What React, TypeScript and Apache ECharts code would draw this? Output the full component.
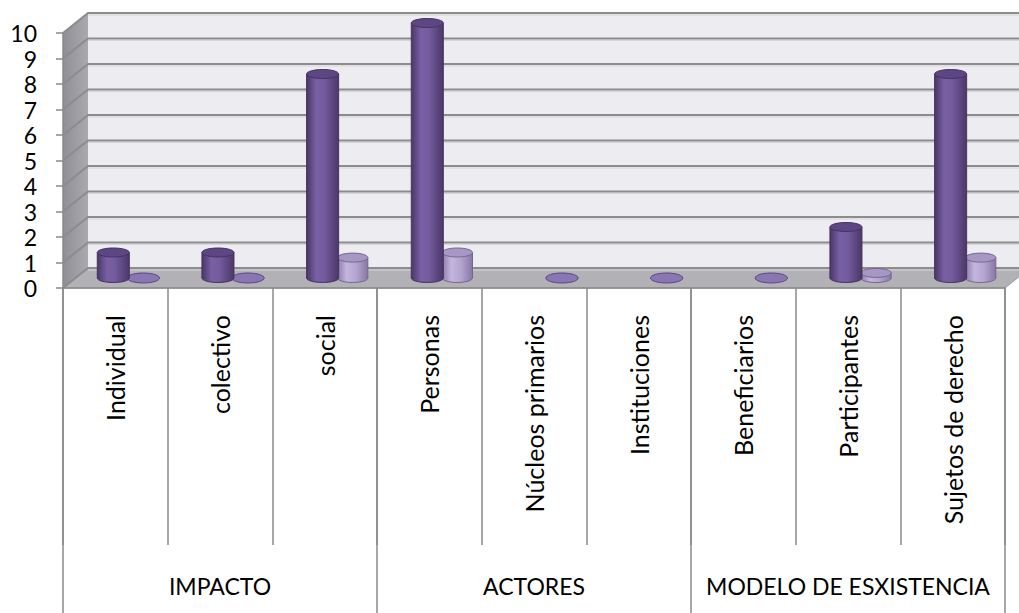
import React, { useEffect, useRef } from "react";
import * as echarts from "echarts";

const categories = [
  "Individual",
  "colectivo",
  "social",
  "Personas",
  "Núcleos primarios",
  "Instituciones",
  "Beneficiarios",
  "Participantes",
  "Sujetos de derecho",
];
const groups = ["IMPACTO", "ACTORES", "MODELO DE ESXISTENCIA"];
const seriesDark: (number | null)[] = [1, 1, 8, 10, null, null, null, 2, 8];
const seriesLight: (number | null)[] = [0, 0, 0.8, 1, 0, 0, 0, 0.2, 0.8];
const yTickValues = [0, 1, 2, 3, 4, 5, 6, 7, 8, 9, 10];

const DX = 25;
const DY = 20;
const FONT = "Lato";

function cylinder(offsetFrac: number, radiusFrac: number, pal: any) {
  return (params: any, api: any) => {
    const v = api.value(1);
    if (v === null || v === undefined || isNaN(v)) return null;
    const idx = api.value(0);
    const top = api.coord([idx, v]);
    const base = api.coord([idx, 0]);
    const bw = api.size([1, 0])[0];
    const cx = top[0] + DX / 2 + offsetFrac * bw;
    const rx = bw * radiusFrac;
    const ry = 4.5;
    const yT = top[1] - DY / 2;
    const yB = base[1] - DY / 2;
    if (v === 0) {
      return {
        type: "ellipse",
        shape: { cx, cy: yB, rx: rx + 1, ry: 5 },
        style: { fill: pal.zero, stroke: pal.zeroStroke, lineWidth: 1 },
      };
    }
    const grad = new echarts.graphic.LinearGradient(0, 0, 1, 0, pal.body);
    return {
      type: "group",
      children: [
        {
          type: "ellipse",
          shape: { cx, cy: yB, rx, ry },
          style: { fill: grad, stroke: pal.stroke, lineWidth: 1 },
        },
        {
          type: "rect",
          shape: { x: cx - rx, y: yT, width: rx * 2, height: yB - yT },
          style: { fill: grad },
        },
        {
          type: "line",
          shape: { x1: cx - rx, y1: yT, x2: cx - rx, y2: yB },
          style: { stroke: pal.stroke, lineWidth: 1 },
        },
        {
          type: "line",
          shape: { x1: cx + rx, y1: yT, x2: cx + rx, y2: yB },
          style: { stroke: pal.stroke, lineWidth: 1 },
        },
        {
          type: "ellipse",
          shape: { cx, cy: yT, rx, ry },
          style: { fill: pal.top, stroke: pal.stroke, lineWidth: 1 },
        },
      ],
    };
  };
}

const darkPal = {
  body: [
    { offset: 0, color: "#4a3768" },
    { offset: 0.3, color: "#7760a3" },
    { offset: 0.55, color: "#745b9e" },
    { offset: 1, color: "#4b3869" },
  ],
  top: "#5c4684",
  stroke: "#46335f",
  zero: "#8a76b3",
  zeroStroke: "#5b4782",
};
const lightPal = {
  body: [
    { offset: 0, color: "#8c7ba9" },
    { offset: 0.3, color: "#c3b6de" },
    { offset: 0.6, color: "#b5a6d1" },
    { offset: 1, color: "#8977a5" },
  ],
  top: "#a797c4",
  stroke: "#76668f",
  zero: "#8a76b3",
  zeroStroke: "#5b4782",
};

function walls(params: any, api: any) {
  const cs = params.coordSys;
  const x0 = cs.x;
  const x1 = cs.x + cs.width;
  const yt = cs.y;
  const yb = cs.y + cs.height;
  const children: any[] = [
    {
      type: "polygon",
      shape: {
        points: [
          [x0, yt],
          [x0 + DX, yt - DY],
          [x0 + DX, yb - DY],
          [x0, yb],
        ],
      },
      style: {
        fill: new echarts.graphic.LinearGradient(0, 0, 1, 0, [
          { offset: 0, color: "#8f8f96" },
          { offset: 1, color: "#a9a9ae" },
        ]),
      },
    },
    {
      type: "rect",
      shape: { x: x0 + DX, y: yt - DY, width: x1 - x0, height: yb - yt },
      style: { fill: "#edecf1" },
    },
    {
      type: "polygon",
      shape: {
        points: [
          [x0, yb],
          [x0 + DX, yb - DY],
          [x1 + DX, yb - DY],
          [x1, yb],
        ],
      },
      style: { fill: "#b2b2b6", stroke: "#9a9a9e", lineWidth: 1 },
    },
  ];
  yTickValues.forEach((t) => {
    const y = api.coord([0, t])[1];
    children.push({
      type: "polyline",
      shape: {
        points: [
          [x0, y],
          [x0 + DX, y - DY],
          [x1 + DX, y - DY],
        ],
      },
      style: { stroke: "#8c8c8c", lineWidth: 2, fill: null },
    });
    children.push({
      type: "polyline",
      shape: {
        points: [
          [x0 + DX, y - DY + 2],
          [x1 + DX, y - DY + 2],
        ],
      },
      style: { stroke: "#d6d5da", lineWidth: 1, fill: null },
    });
  });
  return { type: "group", children };
}

export default function App() {
  const ref = useRef<HTMLDivElement>(null);
  useEffect(() => {
    if (!ref.current) return;
    const chart = echarts.init(ref.current, null, { renderer: "svg" });
    chart.setOption({
      animation: false,
      backgroundColor: "#ffffff",
      grid: { left: 63, right: 14, top: 33, bottom: 325, containLabel: false },
      xAxis: [
        {
          type: "category",
          data: categories,
          position: "bottom",
          boundaryGap: true,
          axisLine: { show: true, lineStyle: { color: "#8a8a8a", width: 1.5 } },
          axisTick: {
            show: true,
            interval: 0,
            length: 257,
            lineStyle: { color: "#8a8a8a", width: 1.5 },
          },
          axisLabel: {
            interval: 0,
            rotate: 90,
            margin: 27,
            fontFamily: FONT,
            fontSize: 25,
            color: "#000000",
          },
          splitLine: { show: false },
        },
        {
          type: "category",
          data: groups,
          position: "bottom",
          gridIndex: 0,
          boundaryGap: true,
          axisLine: { show: false },
          axisTick: {
            show: true,
            interval: 0,
            length: 325,
            lineStyle: { color: "#8a8a8a", width: 1.5 },
          },
          axisLabel: {
            interval: 0,
            margin: 286,
            fontFamily: FONT,
            fontSize: 23,
            color: "#000000",
          },
          splitLine: { show: false },
        },
      ],
      yAxis: {
        type: "value",
        min: 0,
        max: 10,
        interval: 1,
        axisLine: { show: true, lineStyle: { color: "#8a8a8a", width: 1.5 } },
        axisTick: { show: true, length: 7, lineStyle: { color: "#8a8a8a", width: 1.5 } },
        axisLabel: {
          margin: 26,
          fontFamily: FONT,
          fontSize: 23,
          lineHeight: 20,
          color: "#000000",
        },
        splitLine: { show: false },
      },
      series: [
        {
          type: "custom",
          name: "walls",
          xAxisIndex: 0,
          yAxisIndex: 0,
          z: 0,
          silent: true,
          data: [[0, 0]],
          renderItem: walls,
        },
        {
          type: "custom",
          name: "A",
          xAxisIndex: 0,
          yAxisIndex: 0,
          z: 3,
          data: seriesDark.map((v, i) => [i, v === null ? NaN : v]),
          renderItem: cylinder(-0.139, 0.153, darkPal),
        },
        {
          type: "custom",
          name: "B",
          xAxisIndex: 0,
          yAxisIndex: 0,
          z: 2,
          data: seriesLight.map((v, i) => [i, v === null ? NaN : v]),
          renderItem: cylinder(0.148, 0.145, lightPal),
        },
      ],
    });
    return () => chart.dispose();
  }, []);
  return (
    <div
      ref={ref}
      style={{ position: "fixed", left: 0, top: 0, width: 1019, height: 613 }}
    />
  );
}
